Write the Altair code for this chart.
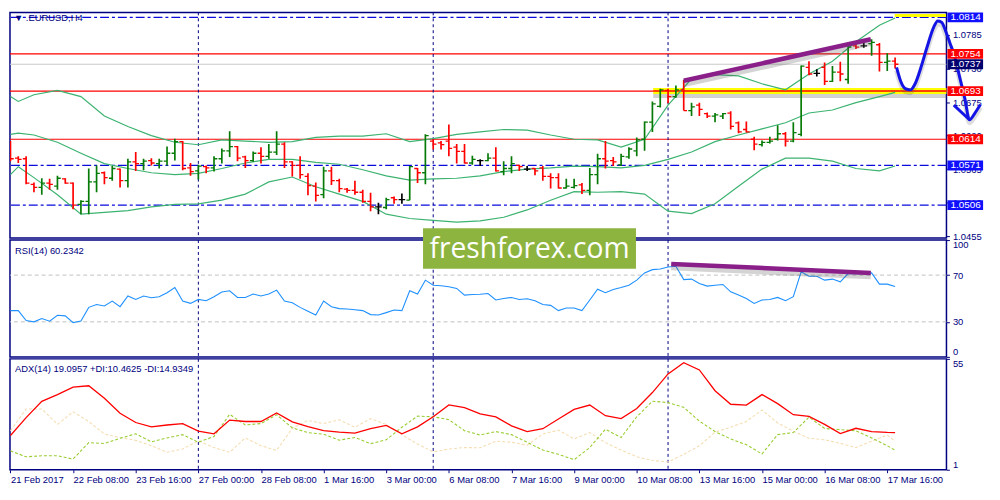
import json
import altair as alt
import pandas as pd

# ---------------- data ----------------
bar_open = [1.0609, 1.0583, 1.0582, 1.0540, 1.0535, 1.0542, 1.0537, 1.0549, 1.0542, 1.0507,
            1.0512, 1.0544, 1.0559, 1.0550, 1.0565, 1.0546, 1.0577, 1.0574, 1.0579, 1.0574,
            1.0578, 1.0591, 1.0610, 1.0567, 1.0562, 1.0569, 1.0567, 1.0582, 1.0595, 1.0602,
            1.0585, 1.0579, 1.0591, 1.0586, 1.0593, 1.0606, 1.0577, 1.0571, 1.0553, 1.0537,
            1.0523, 1.0562, 1.0546, 1.0532, 1.0530, 1.0527, 1.0512, 1.0503, 1.0502, 1.0518,
            1.0515, 1.0514, 1.0566, 1.0559, 1.0611, 1.0608, 1.0611, 1.0601, 1.0594, 1.0575,
            1.0579, 1.0579, 1.0583, 1.0561, 1.0566, 1.0571, 1.0565, 1.0566, 1.0567, 1.0553,
            1.0551, 1.0534, 1.0535, 1.0539, 1.0530, 1.0556, 1.0582, 1.0579, 1.0572, 1.0585,
            1.0595, 1.0614, 1.0642, 1.0668, 1.0694, 1.0684, 1.0695, 1.0661, 1.0670, 1.0656,
            1.0652, 1.0652, 1.0657, 1.0641, 1.0630, 1.0614, 1.0605, 1.0609, 1.0614, 1.0623,
            1.0611, 1.0622, 1.0732, 1.0722, 1.0732, 1.0709, 1.0724, 1.0712, 1.0767, 1.0767,
            1.0771, 1.0769, 1.0740, 1.0742]
bar_high = [1.0611, 1.0586, 1.0586, 1.0543, 1.0550, 1.0549, 1.0554, 1.0550, 1.0543, 1.0514,
            1.0566, 1.0571, 1.0561, 1.0570, 1.0566, 1.0582, 1.0593, 1.0582, 1.0583, 1.0582,
            1.0602, 1.0615, 1.0611, 1.0575, 1.0572, 1.0571, 1.0586, 1.0599, 1.0627, 1.0603,
            1.0587, 1.0594, 1.0601, 1.0606, 1.0627, 1.0609, 1.0578, 1.0586, 1.0558, 1.0543,
            1.0569, 1.0569, 1.0549, 1.0534, 1.0546, 1.0531, 1.0526, 1.0510, 1.0518, 1.0520,
            1.0525, 1.0570, 1.0567, 1.0622, 1.0614, 1.0611, 1.0638, 1.0606, 1.0606, 1.0587,
            1.0581, 1.0591, 1.0601, 1.0578, 1.0586, 1.0572, 1.0570, 1.0567, 1.0570, 1.0558,
            1.0558, 1.0549, 1.0549, 1.0542, 1.0567, 1.0590, 1.0611, 1.0585, 1.0590, 1.0601,
            1.0617, 1.0643, 1.0676, 1.0697, 1.0697, 1.0702, 1.0711, 1.0674, 1.0674, 1.0658,
            1.0657, 1.0657, 1.0660, 1.0643, 1.0643, 1.0618, 1.0612, 1.0618, 1.0637, 1.0626,
            1.0642, 1.0735, 1.0742, 1.0729, 1.0740, 1.0734, 1.0741, 1.0773, 1.0771, 1.0772,
            1.0778, 1.0772, 1.0755, 1.0748]
bar_low = [1.0578, 1.0575, 1.0540, 1.0527, 1.0523, 1.0531, 1.0531, 1.0541, 1.0499, 1.0491,
           1.0491, 1.0527, 1.0540, 1.0546, 1.0535, 1.0535, 1.0562, 1.0563, 1.0571, 1.0566,
           1.0571, 1.0579, 1.0563, 1.0554, 1.0548, 1.0558, 1.0561, 1.0574, 1.0585, 1.0578,
           1.0567, 1.0577, 1.0574, 1.0582, 1.0588, 1.0567, 1.0553, 1.0549, 1.0522, 1.0512,
           1.0517, 1.0539, 1.0527, 1.0526, 1.0523, 1.0510, 1.0496, 1.0491, 1.0499, 1.0508,
           1.0508, 1.0514, 1.0542, 1.0540, 1.0597, 1.0597, 1.0586, 1.0574, 1.0574, 1.0572,
           1.0570, 1.0578, 1.0561, 1.0555, 1.0558, 1.0562, 1.0562, 1.0555, 1.0546, 1.0533,
           1.0533, 1.0533, 1.0533, 1.0524, 1.0522, 1.0540, 1.0566, 1.0570, 1.0570, 1.0582,
           1.0586, 1.0595, 1.0626, 1.0666, 1.0673, 1.0682, 1.0661, 1.0652, 1.0652, 1.0649,
           1.0642, 1.0647, 1.0630, 1.0624, 1.0625, 1.0596, 1.0602, 1.0607, 1.0612, 1.0602,
           1.0609, 1.0619, 1.0719, 1.0717, 1.0703, 1.0708, 1.0709, 1.0705, 1.0762, 1.0764,
           1.0751, 1.0725, 1.0726, 1.0730]
bar_close = [1.0582, 1.0581, 1.0542, 1.0535, 1.0542, 1.0540, 1.0550, 1.0542, 1.0506, 1.0512,
             1.0544, 1.0558, 1.0551, 1.0566, 1.0546, 1.0577, 1.0574, 1.0578, 1.0575, 1.0578,
             1.0591, 1.0610, 1.0566, 1.0561, 1.0570, 1.0567, 1.0582, 1.0595, 1.0602, 1.0583,
             1.0579, 1.0591, 1.0586, 1.0593, 1.0606, 1.0577, 1.0571, 1.0556, 1.0538, 1.0522,
             1.0562, 1.0546, 1.0533, 1.0530, 1.0527, 1.0512, 1.0503, 1.0503, 1.0515, 1.0515,
             1.0515, 1.0569, 1.0559, 1.0620, 1.0606, 1.0605, 1.0599, 1.0594, 1.0575, 1.0581,
             1.0579, 1.0583, 1.0562, 1.0566, 1.0574, 1.0569, 1.0565, 1.0562, 1.0553, 1.0551,
             1.0534, 1.0537, 1.0538, 1.0530, 1.0556, 1.0582, 1.0578, 1.0577, 1.0586, 1.0598,
             1.0613, 1.0642, 1.0672, 1.0695, 1.0684, 1.0695, 1.0661, 1.0667, 1.0663, 1.0652,
             1.0654, 1.0656, 1.0635, 1.0626, 1.0626, 1.0606, 1.0609, 1.0611, 1.0623, 1.0611,
             1.0625, 1.0734, 1.0721, 1.0722, 1.0709, 1.0724, 1.0721, 1.0765, 1.0765, 1.0767,
             1.0773, 1.0740, 1.0742, 1.0737]

band_bars = [0, 1, 3, 6, 9, 12, 15, 18, 21, 24, 27, 30, 33, 36, 39, 42, 45, 48, 51, 54,
             57, 60, 63, 66, 69, 72, 75, 78, 81, 84, 87, 90, 93, 96, 99, 102, 105, 108, 111, 113]
band_upper = [1.0684, 1.0676, 1.0687, 1.0694, 1.0684, 1.0652, 1.0635, 1.0620, 1.0609, 1.0605,
              1.0613, 1.0611, 1.0609, 1.0610, 1.0617, 1.0619, 1.0619, 1.0623, 1.0610, 1.0615,
              1.0622, 1.0626, 1.0630, 1.0629, 1.0621, 1.0614, 1.0613, 1.0601, 1.0614, 1.0670,
              1.0713, 1.0720, 1.0718, 1.0705, 1.0695, 1.0721, 1.0742, 1.0774, 1.0801, 1.0813]
band_middle = [1.0622, 1.0624, 1.0621, 1.0609, 1.0591, 1.0574, 1.0566, 1.0559, 1.0556, 1.0558,
               1.0566, 1.0575, 1.0581, 1.0581, 1.0576, 1.0573, 1.0564, 1.0554, 1.0547, 1.0549,
               1.0550, 1.0554, 1.0561, 1.0565, 1.0567, 1.0570, 1.0569, 1.0567, 1.0571, 1.0581,
               1.0593, 1.0610, 1.0621, 1.0631, 1.0641, 1.0657, 1.0662, 1.0674, 1.0684, 1.0691]
band_lower = [1.0556, 1.0569, 1.0551, 1.0523, 1.0491, 1.0494, 1.0497, 1.0503, 1.0507, 1.0508,
              1.0514, 1.0524, 1.0544, 1.0552, 1.0536, 1.0524, 1.0512, 1.0491, 1.0484, 1.0481,
              1.0478, 1.0480, 1.0486, 1.0498, 1.0514, 1.0528, 1.0527, 1.0528, 1.0524, 1.0496,
              1.0492, 1.0508, 1.0537, 1.0565, 1.0583, 1.0583, 1.0578, 1.0566, 1.0562, 1.0570]

rsi_values = [39.6, 39.6, 31.1, 30.0, 32.8, 30.5, 35.6, 35.1, 29.4, 30.8,
              42.4, 44.9, 43.6, 47.8, 43.0, 52.1, 49.2, 52.1, 50.6, 51.5,
              54.9, 59.4, 47.8, 45.8, 49.2, 48.1, 51.5, 55.5, 56.6, 50.9,
              50.9, 53.8, 52.1, 53.8, 57.2, 47.8, 46.4, 42.4, 39.1, 35.9,
              47.8, 43.0, 41.3, 41.0, 40.4, 39.6, 36.2, 35.9, 37.9, 40.2,
              39.6, 56.6, 53.8, 65.7, 61.4, 60.9, 60.0, 58.6, 52.9, 53.4,
              53.6, 54.3, 48.7, 50.0, 50.9, 49.2, 49.8, 48.1, 44.9, 44.1,
              39.6, 41.9, 41.9, 39.6, 48.7, 58.0, 54.9, 57.7, 59.4, 61.4,
              65.7, 71.9, 74.7, 75.3, 77.0, 77.6, 66.2, 66.6, 62.8, 60.6,
              61.3, 62.0, 55.7, 52.9, 50.0, 45.8, 48.7, 49.2, 50.9, 48.1,
              51.5, 72.8, 69.1, 69.1, 65.7, 66.6, 64.3, 71.3, 71.3, 71.3,
              71.9, 62.3, 62.3, 60.2]

adx_bars = [0, 2, 4, 6, 8, 10, 12, 14, 16, 18, 20, 22, 24, 26, 28, 30, 32, 34, 36, 38,
            40, 42, 44, 46, 48, 50, 52, 54, 56, 58, 60, 62, 64, 66, 68, 70, 72, 74, 76, 78,
            80, 82, 84, 86, 88, 90, 92, 94, 96, 98, 100, 102, 104, 106, 108, 110, 112, 113]
adx_main = [17.7, 26.4, 34.3, 37.6, 41.2, 41.9, 35.8, 28.5, 24.0, 21.9, 22.8, 23.5, 19.8, 18.5,
            25.2, 24.5, 24.5, 28.7, 24.3, 22.0, 20.1, 19.3, 18.8, 21.0, 22.6, 18.5, 21.9, 26.8,
            32.6, 31.3, 28.2, 26.7, 22.4, 19.6, 21.0, 25.7, 30.4, 32.5, 27.3, 25.9, 30.8, 38.6,
            47.7, 53.1, 49.6, 39.5, 32.9, 32.5, 37.6, 33.2, 27.8, 27.0, 23.1, 18.6, 21.2, 19.6,
            19.2, 19.1]
adx_plus_di = [10.2, 7.3, 7.8, 7.8, 6.2, 14.2, 13.8, 16.3, 18.5, 14.6, 16.5, 18.1, 14.4, 17.2,
               28.0, 22.8, 23.5, 27.8, 21.4, 19.1, 18.3, 15.4, 16.7, 13.7, 15.6, 21.7, 27.1, 26.8,
               25.4, 20.0, 17.9, 19.6, 18.1, 14.4, 10.6, 8.5, 5.9, 11.8, 20.7, 16.7, 26.8, 34.4,
               33.7, 31.4, 24.7, 19.6, 16.0, 13.2, 8.7, 18.1, 19.1, 26.6, 21.1, 20.5, 20.0, 16.5,
               12.7, 10.5]
adx_minus_di = [20.0, 30.6, 30.6, 23.1, 29.2, 24.5, 18.4, 16.7, 15.3, 12.7, 9.5, 11.1, 15.1, 11.8,
                9.5, 16.5, 12.7, 10.4, 21.2, 25.0, 23.5, 25.3, 21.7, 25.9, 23.1, 18.1, 13.5, 9.7,
                11.1, 11.8, 11.7, 14.9, 14.4, 13.0, 18.4, 20.3, 16.0, 19.1, 14.2, 10.6, 7.3, 5.5,
                4.8, 8.5, 12.7, 19.3, 21.7, 24.5, 30.1, 23.8, 19.8, 16.3, 15.6, 13.9, 11.8, 14.9,
                17.9, 14.9]

tick_bars = [0, 8, 16, 24, 32, 40, 48, 56, 64, 72, 80, 88, 96, 104, 112]
tick_labels = ["21 Feb 2017", "22 Feb 08:00", "23 Feb 16:00", "27 Feb 00:00", "28 Feb 08:00",
               "1 Mar 16:00", "3 Mar 00:00", "6 Mar 08:00", "7 Mar 16:00", "9 Mar 00:00",
               "10 Mar 08:00", "13 Mar 16:00", "15 Mar 00:00", "16 Mar 08:00", "17 Mar 16:00"]
week_start_bars = [24, 54, 84]

price_ticks = [1.0455, 1.0510, 1.0565, 1.0620, 1.0675, 1.0730, 1.0785]
red_levels = [1.0754, 1.0693, 1.0614]
blue_levels = [1.0814, 1.0571, 1.0506]
bid_price = 1.0737
tag_prices = [1.0814, 1.0754, 1.0737, 1.0693, 1.0614, 1.0571, 1.0506]
tag_colors = ["#1010FF", "#FF0000", "#00006E", "#FF0000", "#FF0000", "#1010FF", "#1010FF"]

# hand-drawn annotations (bar index / price)
trend_bars = [86.0, 109.9]
trend_prices = [1.0710, 1.0778]
rsi_trend_bars = [84.4, 109.9]
rsi_trend_vals = [79.6, 71.9]
curve_bars = [113.19, 113.69, 114.31, 114.94, 115.56, 116.31, 117.06, 117.94, 118.44,
              118.94, 119.44, 120.0, 120.6, 121.3, 121.9, 122.5, 123.2, 123.9]
curve_prices = [1.0732, 1.0710, 1.0697, 1.0695, 1.0705, 1.0732, 1.0764, 1.0798, 1.0808,
                1.0806, 1.0792, 1.0772, 1.0750, 1.0713, 1.0681, 1.0646, 1.0657, 1.0671]
hook_bars = [120.5, 122.5]
hook_prices = [1.0670, 1.0646]
highlight_bars = [82.1, 119.56]
highlight_price = 1.0693
top_mark_bars = [112.95, 119.5]
top_mark_price = 1.0817

# ---------------- layout / style ----------------
FONT = "Tahoma, Liberation Sans, Arial, sans-serif"
NAVY = "#000080"
W = 946
H_PRICE, H_RSI, H_ADX = 228, 118, 112
X_DOM = [-0.0625, 119.5625]
xs = alt.Scale(domain=X_DOM, nice=False, zero=False)
ps = alt.Scale(domain=[1.04518, 1.08221], nice=False, zero=False)
rs = alt.Scale(domain=[0, 100], nice=False, zero=False)
ad = alt.Scale(domain=[1, 55], nice=False, zero=False)

price_axis = alt.Axis(orient="right", values=price_ticks, format=".4f", title=None, grid=False,
                      domain=False, tickColor=NAVY, tickSize=3, labelColor=NAVY, labelFont=FONT,
                      labelFontSize=9.5, labelPadding=3, zindex=0)
rsi_axis = alt.Axis(orient="right", values=[0, 30, 70, 100], title=None, grid=False, domain=False,
                    tickColor=NAVY, tickSize=3, labelColor=NAVY, labelFont=FONT, labelFontSize=9.5,
                    labelPadding=3, labelFlush=True, zindex=0)
adx_axis = alt.Axis(orient="right", values=[1, 55], title=None, grid=False, domain=False,
                    tickColor=NAVY, tickSize=3, labelColor=NAVY, labelFont=FONT, labelFontSize=9.5,
                    labelPadding=3, labelFlush=True, zindex=0)
label_expr = json.dumps(tick_labels) + "[round(datum.value / 8)]"
x_axis = alt.Axis(values=tick_bars, labelExpr=label_expr, title=None, grid=False, domain=False,
                  tickColor=NAVY, tickSize=3, labelColor=NAVY, labelFont=FONT, labelFontSize=9.5,
                  labelAlign="left", labelPadding=2, labelFlush=False, labelOverlap=False,
                  labelBound=False, zindex=0)


def XN(f):
    return alt.X(f, scale=xs, axis=None)


def XA(f):
    return alt.X(f, scale=xs, axis=x_axis)


def YP(f):
    return alt.Y(f, scale=ps, axis=price_axis)


def YR(f):
    return alt.Y(f, scale=rs, axis=rsi_axis)


def YA(f):
    return alt.Y(f, scale=ad, axis=adx_axis)


bars_df = pd.DataFrame({"bar": list(range(len(bar_close))), "open": bar_open,
                        "high": bar_high, "low": bar_low, "close": bar_close})
bars_df["dir"] = ["up" if c > o else ("down" if c < o else "flat")
                  for o, c in zip(bar_open, bar_close)]
bar_color = alt.Color("dir:N", scale=alt.Scale(domain=["up", "down", "flat"],
                      range=["#067a06", "#FF0000", "#000000"]), legend=None)

sep_df = pd.DataFrame({"bar": week_start_bars})


def seps(xf=XN):
    return alt.Chart(sep_df).mark_rule(color=NAVY, strokeDash=[3, 3], strokeWidth=1).encode(
        x=xf("bar:Q"))


# ---- price panel ----
lvl_red = alt.Chart(pd.DataFrame({"p": red_levels})).mark_rule(color="#FF0000", strokeWidth=1.2).encode(
    y=YP("p:Q"))
lvl_blue = alt.Chart(pd.DataFrame({"p": blue_levels})).mark_rule(
    color="#0A0ADC", strokeWidth=1.2, strokeDash=[9, 3, 3, 3]).encode(y=YP("p:Q"))
lvl_bid = alt.Chart(pd.DataFrame({"p": [bid_price]})).mark_rule(color="#C8C8C8", strokeWidth=1).encode(
    y=YP("p:Q"))
hl_df = pd.DataFrame({"x0": [highlight_bars[0]], "x1": [highlight_bars[1]], "p": [highlight_price]})
hl_shadow = alt.Chart(hl_df).mark_rule(color="#666666", opacity=0.3, strokeWidth=8, yOffset=3).encode(
    x=XN("x0:Q"), x2="x1:Q", y=YP("p:Q"))
hl_yellow = alt.Chart(hl_df).mark_rule(color="#FFFF00", strokeWidth=6).encode(
    x=XN("x0:Q"), x2="x1:Q", y=YP("p:Q"))
hl_red = alt.Chart(hl_df).mark_rule(color="#FF0000", strokeWidth=1.5).encode(
    x=XN("x0:Q"), x2="x1:Q", y=YP("p:Q"))
top_df = pd.DataFrame({"x0": [top_mark_bars[0]], "x1": [top_mark_bars[1]], "p": [top_mark_price]})
top_yellow = alt.Chart(top_df).mark_rule(color="#FFFF00", strokeWidth=3).encode(
    x=XN("x0:Q"), x2="x1:Q", y=YP("p:Q"))

band_df = pd.DataFrame({"bar": band_bars, "upper": band_upper, "middle": band_middle, "lower": band_lower})
bands = [alt.Chart(band_df).mark_line(color="#3CB371", strokeWidth=1.2, clip=True).encode(
    x=XN("bar:Q"), y=YP(f"{c}:Q")) for c in ["upper", "middle", "lower"]]

hilo = alt.Chart(bars_df).mark_rule(strokeWidth=1.7, clip=True).encode(
    x=XN("bar:Q"), y=YP("low:Q"), y2="high:Q", color=bar_color)
open_tick = alt.Chart(bars_df).transform_calculate(xa="datum.bar - 0.42").mark_rule(
    strokeWidth=1.3, clip=True).encode(x=XN("xa:Q"), x2="bar:Q", y=YP("open:Q"), color=bar_color)
close_tick = alt.Chart(bars_df).transform_calculate(xb="datum.bar + 0.42").mark_rule(
    strokeWidth=1.3, clip=True).encode(x=XN("bar:Q"), x2="xb:Q", y=YP("close:Q"), color=bar_color)

tr_df = pd.DataFrame({"bar": trend_bars, "p": trend_prices})
tr_shadow = alt.Chart(tr_df).mark_line(color="#555555", opacity=0.25, strokeWidth=7, yOffset=3).encode(
    x=XN("bar:Q"), y=YP("p:Q"))
tr_line = alt.Chart(tr_df).mark_line(color="#8A1F8A", strokeWidth=4.5).encode(x=XN("bar:Q"), y=YP("p:Q"))

cv_df = pd.DataFrame({"bar": curve_bars, "p": curve_prices})
cv_shadow = alt.Chart(cv_df).mark_line(color="#555555", opacity=0.2, strokeWidth=5, yOffset=3,
                                      clip=False, interpolate="monotone").encode(x=XN("bar:Q"), y=YP("p:Q"))
cv_line = alt.Chart(cv_df).mark_line(color="#1414E6", strokeWidth=3, clip=False,
                                    interpolate="monotone").encode(x=XN("bar:Q"), y=YP("p:Q"))
hk_line = alt.Chart(pd.DataFrame({"bar": hook_bars, "p": hook_prices})).mark_line(
    color="#1414E6", strokeWidth=3, clip=False).encode(x=XN("bar:Q"), y=YP("p:Q"))

tag_df = pd.DataFrame({"price": tag_prices, "fill": tag_colors,
                       "label": [f"{p:.4f}" for p in tag_prices]})
tag_rect = alt.Chart(tag_df).transform_calculate(
    top="datum.price + 0.00081", bot="datum.price - 0.00081").mark_rect(clip=False).encode(
    x=alt.value(W + 1), x2=alt.value(W + 37), y=YP("top:Q"), y2="bot:Q",
    color=alt.Color("fill:N", scale=None))
tag_text = alt.Chart(tag_df).mark_text(align="left", baseline="middle", color="white", font=FONT,
                                       fontSize=10, clip=False).encode(
    x=alt.value(W + 4), y=YP("price:Q"), text="label:N")

title_p = alt.Chart(pd.DataFrame({"t": ["▼ .EURUSD,H4"]})).mark_text(
    align="left", baseline="middle", color=NAVY, font=FONT, fontSize=9.5).encode(
    x=alt.value(4), y=alt.value(6), text="t:N")

price_panel = alt.layer(
    lvl_bid, lvl_red, lvl_blue, seps(), hl_shadow, hl_yellow, hl_red, top_yellow,
    *bands, hilo, open_tick, close_tick, tr_shadow, tr_line, cv_shadow, cv_line, hk_line,
    tag_rect, tag_text, title_p
).properties(width=W, height=H_PRICE)

# ---- RSI panel ----
rsi_df = pd.DataFrame({"bar": list(range(len(rsi_values))), "rsi": rsi_values})
rsi_lv = alt.Chart(pd.DataFrame({"v": [30, 70]})).mark_rule(color="#C0C0C0", strokeDash=[4, 3]).encode(
    y=YR("v:Q"))
rsi_line = alt.Chart(rsi_df).mark_line(color="#1E90FF", strokeWidth=1.1, clip=True).encode(
    x=XN("bar:Q"), y=YR("rsi:Q"))
rt_df = pd.DataFrame({"bar": rsi_trend_bars, "v": rsi_trend_vals})
rsi_tr_sh = alt.Chart(rt_df).mark_line(color="#555555", opacity=0.25, strokeWidth=7, yOffset=3).encode(
    x=XN("bar:Q"), y=YR("v:Q"))
rsi_tr = alt.Chart(rt_df).mark_line(color="#8A1F8A", strokeWidth=4.5).encode(x=XN("bar:Q"), y=YR("v:Q"))
wm_df = pd.DataFrame({"x0": [52.7], "x1": [79.9], "y0": [110.2], "y1": [75.4],
                      "xc": [66.3], "yc": [92.4], "t": ["freshforex.com"]})
wm_box = alt.Chart(wm_df).mark_rect(color="#8DB43E", clip=False).encode(
    x=XN("x0:Q"), x2="x1:Q", y=YR("y0:Q"), y2="y1:Q")
wm_txt = alt.Chart(wm_df).mark_text(color="white", font="Open Sans", fontSize=28.5, align="center",
                                    baseline="middle", clip=False).encode(
    x=XN("xc:Q"), y=YR("yc:Q"), text="t:N")
title_r = alt.Chart(pd.DataFrame({"t": ["RSI(14) 60.2342"]})).mark_text(
    align="left", baseline="middle", color=NAVY, font=FONT, fontSize=9.5).encode(
    x=alt.value(5), y=alt.value(11), text="t:N")
rsi_panel = alt.layer(rsi_lv, seps(), rsi_line, rsi_tr_sh, rsi_tr, title_r, wm_box, wm_txt).properties(
    width=W, height=H_RSI)

# ---- ADX panel ----
adx_df = pd.DataFrame({"bar": adx_bars, "adx": adx_main, "pdi": adx_plus_di, "mdi": adx_minus_di})
mdi_line = alt.Chart(adx_df).mark_line(color="#F5DEB3", strokeWidth=1.1, strokeDash=[3, 2], clip=True).encode(
    x=XA("bar:Q"), y=YA("mdi:Q"))
pdi_line = alt.Chart(adx_df).mark_line(color="#9ACD32", strokeWidth=1.1, strokeDash=[3, 2], clip=True).encode(
    x=XA("bar:Q"), y=YA("pdi:Q"))
adx_line = alt.Chart(adx_df).mark_line(color="#FF0000", strokeWidth=1.3, clip=True).encode(
    x=XA("bar:Q"), y=YA("adx:Q"))
title_a = alt.Chart(pd.DataFrame({"t": ["ADX(14) 19.0957 +DI:10.4625 -DI:14.9349"]})).mark_text(
    align="left", baseline="middle", color=NAVY, font=FONT, fontSize=9.5).encode(
    x=alt.value(5), y=alt.value(10), text="t:N")
adx_panel = alt.layer(seps(XA), mdi_line, pdi_line, adx_line, title_a).properties(width=W, height=H_ADX)

chart = alt.vconcat(price_panel, rsi_panel, adx_panel, spacing=2, bounds="flush").resolve_scale(
    x="independent", y="independent", color="independent"
).properties(padding=0, background="white").configure_view(stroke=NAVY, strokeWidth=1.5)

chart.save("out.html", embed_options={"renderer": "svg", "actions": False})
